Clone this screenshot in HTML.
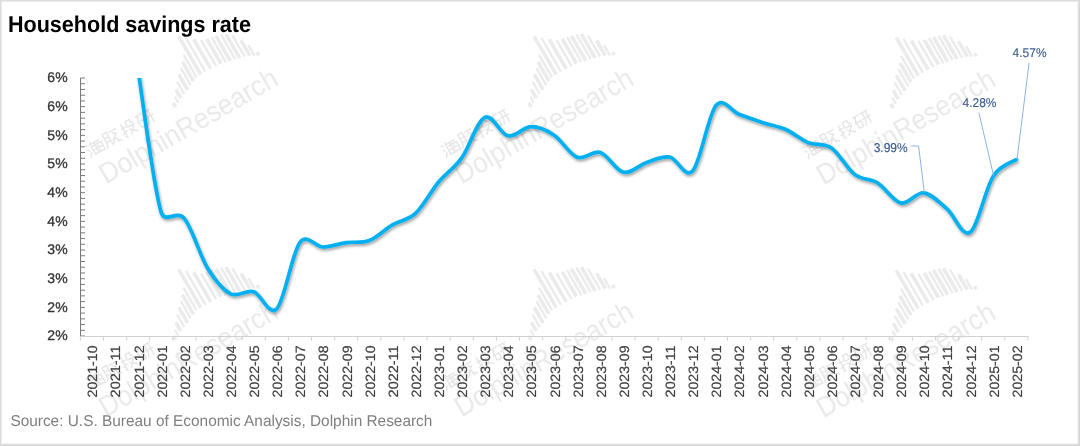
<!DOCTYPE html>
<html><head><meta charset="utf-8"><style>
html,body{margin:0;padding:0;}
body{width:1080px;height:446px;overflow:hidden;background:#fff;position:relative;}
.frame{position:absolute;left:0;top:0;width:1080px;height:446px;box-shadow:inset 1px 1px 0 #dcdcdc, inset -1px -1px 0 #d6d6d6, inset 2px 2px 0 #eaeaea, inset -2px -2px 0 #e0e0e0, inset -3px -3px 0 #f5f5f5;}
svg{position:absolute;left:0;top:0;will-change:transform;}
text{font-family:"Liberation Sans",sans-serif;text-rendering:geometricPrecision;}
.yl{font-size:14px;fill:#333;stroke:#333;stroke-width:0.3px;text-anchor:end;}
.xl{font-size:13.5px;fill:#404040;stroke:#404040;stroke-width:0.2px;text-anchor:end;}
.title{font-size:22.9px;font-weight:bold;fill:#000;}
.src{font-size:15.7px;fill:#7f7f7f;}
.ann{font-size:12.8px;fill:#3b5b8c;stroke:#3b5b8c;stroke-width:0.15px;}
.wm{font-size:28.5px;fill:#eaeaea;}
</style></head><body>
<div class="frame"></div>
<svg width="1080" height="446" viewBox="0 0 1080 446">
<defs>
<clipPath id="plot"><rect x="81" y="78.0" width="960" height="260"/></clipPath>
<filter id="sh" x="-5%" y="-5%" width="110%" height="120%">
<feGaussianBlur in="SourceAlpha" stdDeviation="1.7"/>
<feOffset dx="0.8" dy="2.4" result="b"/>
<feComponentTransfer><feFuncA type="linear" slope="0.38"/></feComponentTransfer>
<feMerge><feMergeNode/><feMergeNode in="SourceGraphic"/></feMerge>
</filter>
</defs>
<g transform="translate(104.0,181.0)"><g transform="rotate(-30)"><g stroke="#ebebeb"><line x1="99.0" y1="-33.0" x2="99.0" y2="-28.2" stroke-width="3.6"/><line x1="103.5" y1="-37.5" x2="103.5" y2="-30.8" stroke-width="2.4"/><line x1="108.0" y1="-43.6" x2="108.0" y2="-33.4" stroke-width="3.6"/><line x1="113.0" y1="-49.5" x2="113.0" y2="-35.2" stroke-width="2.4"/><line x1="118.0" y1="-54.9" x2="118.0" y2="-37.0" stroke-width="3.6"/><line x1="123.0" y1="-59.3" x2="123.0" y2="-39.5" stroke-width="2.4"/><line x1="127.5" y1="-63.9" x2="127.5" y2="-41.8" stroke-width="3.6"/><line x1="132.0" y1="-69.7" x2="132.0" y2="-43.5" stroke-width="2.4"/><line x1="137.0" y1="-88.0" x2="137.0" y2="-43.7" stroke-width="3.6"/><line x1="142.5" y1="-83.0" x2="142.5" y2="-43.9" stroke-width="2.4"/><line x1="148.5" y1="-77.7" x2="148.5" y2="-43.7" stroke-width="3.6"/><line x1="154.5" y1="-73.5" x2="154.5" y2="-43.4" stroke-width="2.4"/><line x1="160.0" y1="-71.7" x2="160.0" y2="-43.1" stroke-width="3.6"/><line x1="165.0" y1="-70.8" x2="165.0" y2="-42.1" stroke-width="2.4"/><line x1="169.5" y1="-69.7" x2="169.5" y2="-41.0" stroke-width="3.6"/><line x1="174.5" y1="-68.2" x2="174.5" y2="-39.9" stroke-width="2.4"/><line x1="179.0" y1="-66.2" x2="179.0" y2="-38.7" stroke-width="3.6"/><line x1="184.0" y1="-61.8" x2="184.0" y2="-37.4" stroke-width="2.4"/><line x1="189.0" y1="-53.3" x2="189.0" y2="-35.7" stroke-width="3.6"/><line x1="193.0" y1="-45.4" x2="193.0" y2="-33.4" stroke-width="2.4"/><line x1="197.0" y1="-35.0" x2="197.0" y2="-31.6" stroke-width="3.6"/></g><text x="0" y="4" class="wm" textLength="201" lengthAdjust="spacingAndGlyphs">DolphinResearch</text>
<g transform="translate(0,-25) scale(1.22)" stroke="#e6e6e6" stroke-width="1.2" fill="none">
<path d="M1,-12 l2,1.5 M0.5,-8 l2,1.5 M0,-1 l3,-4 M6,-13 l-1.5,3 M5.5,-11 h8 M5,-9 v7 h9 M5,-9 h9 v8 M5,-5.5 h9 M8.5,-11 v9 M10,-8 l1,1.5 M9.5,-4 l1,1.5"/>
<path d="M16,-1 l1.5,-3 v-9 h4 v12 M17.5,-9 h4 M17.5,-5.5 h4 M23,-12 h7 M25,-10.5 l3,2 l-5,4 M26,-7 l1,6 M26,-4 l4,3 M25.5,-6 l-3,4"/>
<path d="M33,-9 h4 M35,-13 v12 l-1.5,-1 M32.5,-4 l5,-2 M39,-13 v3 l-1.5,1.5 M39,-13 h4 v3 h2 M38.5,-8 h6 l-6,7 M39,-6 l6,5"/>
<path d="M48,-12 h6 M50.5,-12 l-2.5,6 M49,-7 h4 v5 h-4 z M55,-12 h7 M54.5,-7 h8 M57,-12 v6 l-2,5 M60,-12 v11"/>
</g></g>
</g><g transform="translate(459.5,181.0)"><g transform="rotate(-30)"><g stroke="#ebebeb"><line x1="99.0" y1="-33.0" x2="99.0" y2="-28.2" stroke-width="3.6"/><line x1="103.5" y1="-37.5" x2="103.5" y2="-30.8" stroke-width="2.4"/><line x1="108.0" y1="-43.6" x2="108.0" y2="-33.4" stroke-width="3.6"/><line x1="113.0" y1="-49.5" x2="113.0" y2="-35.2" stroke-width="2.4"/><line x1="118.0" y1="-54.9" x2="118.0" y2="-37.0" stroke-width="3.6"/><line x1="123.0" y1="-59.3" x2="123.0" y2="-39.5" stroke-width="2.4"/><line x1="127.5" y1="-63.9" x2="127.5" y2="-41.8" stroke-width="3.6"/><line x1="132.0" y1="-69.7" x2="132.0" y2="-43.5" stroke-width="2.4"/><line x1="137.0" y1="-88.0" x2="137.0" y2="-43.7" stroke-width="3.6"/><line x1="142.5" y1="-83.0" x2="142.5" y2="-43.9" stroke-width="2.4"/><line x1="148.5" y1="-77.7" x2="148.5" y2="-43.7" stroke-width="3.6"/><line x1="154.5" y1="-73.5" x2="154.5" y2="-43.4" stroke-width="2.4"/><line x1="160.0" y1="-71.7" x2="160.0" y2="-43.1" stroke-width="3.6"/><line x1="165.0" y1="-70.8" x2="165.0" y2="-42.1" stroke-width="2.4"/><line x1="169.5" y1="-69.7" x2="169.5" y2="-41.0" stroke-width="3.6"/><line x1="174.5" y1="-68.2" x2="174.5" y2="-39.9" stroke-width="2.4"/><line x1="179.0" y1="-66.2" x2="179.0" y2="-38.7" stroke-width="3.6"/><line x1="184.0" y1="-61.8" x2="184.0" y2="-37.4" stroke-width="2.4"/><line x1="189.0" y1="-53.3" x2="189.0" y2="-35.7" stroke-width="3.6"/><line x1="193.0" y1="-45.4" x2="193.0" y2="-33.4" stroke-width="2.4"/><line x1="197.0" y1="-35.0" x2="197.0" y2="-31.6" stroke-width="3.6"/></g><text x="0" y="4" class="wm" textLength="201" lengthAdjust="spacingAndGlyphs">DolphinResearch</text>
<g transform="translate(0,-25) scale(1.22)" stroke="#e6e6e6" stroke-width="1.2" fill="none">
<path d="M1,-12 l2,1.5 M0.5,-8 l2,1.5 M0,-1 l3,-4 M6,-13 l-1.5,3 M5.5,-11 h8 M5,-9 v7 h9 M5,-9 h9 v8 M5,-5.5 h9 M8.5,-11 v9 M10,-8 l1,1.5 M9.5,-4 l1,1.5"/>
<path d="M16,-1 l1.5,-3 v-9 h4 v12 M17.5,-9 h4 M17.5,-5.5 h4 M23,-12 h7 M25,-10.5 l3,2 l-5,4 M26,-7 l1,6 M26,-4 l4,3 M25.5,-6 l-3,4"/>
<path d="M33,-9 h4 M35,-13 v12 l-1.5,-1 M32.5,-4 l5,-2 M39,-13 v3 l-1.5,1.5 M39,-13 h4 v3 h2 M38.5,-8 h6 l-6,7 M39,-6 l6,5"/>
<path d="M48,-12 h6 M50.5,-12 l-2.5,6 M49,-7 h4 v5 h-4 z M55,-12 h7 M54.5,-7 h8 M57,-12 v6 l-2,5 M60,-12 v11"/>
</g></g>
</g><g transform="translate(821.5,182.0)"><g transform="rotate(-30)"><g stroke="#ebebeb"><line x1="99.0" y1="-33.0" x2="99.0" y2="-28.2" stroke-width="3.6"/><line x1="103.5" y1="-37.5" x2="103.5" y2="-30.8" stroke-width="2.4"/><line x1="108.0" y1="-43.6" x2="108.0" y2="-33.4" stroke-width="3.6"/><line x1="113.0" y1="-49.5" x2="113.0" y2="-35.2" stroke-width="2.4"/><line x1="118.0" y1="-54.9" x2="118.0" y2="-37.0" stroke-width="3.6"/><line x1="123.0" y1="-59.3" x2="123.0" y2="-39.5" stroke-width="2.4"/><line x1="127.5" y1="-63.9" x2="127.5" y2="-41.8" stroke-width="3.6"/><line x1="132.0" y1="-69.7" x2="132.0" y2="-43.5" stroke-width="2.4"/><line x1="137.0" y1="-88.0" x2="137.0" y2="-43.7" stroke-width="3.6"/><line x1="142.5" y1="-83.0" x2="142.5" y2="-43.9" stroke-width="2.4"/><line x1="148.5" y1="-77.7" x2="148.5" y2="-43.7" stroke-width="3.6"/><line x1="154.5" y1="-73.5" x2="154.5" y2="-43.4" stroke-width="2.4"/><line x1="160.0" y1="-71.7" x2="160.0" y2="-43.1" stroke-width="3.6"/><line x1="165.0" y1="-70.8" x2="165.0" y2="-42.1" stroke-width="2.4"/><line x1="169.5" y1="-69.7" x2="169.5" y2="-41.0" stroke-width="3.6"/><line x1="174.5" y1="-68.2" x2="174.5" y2="-39.9" stroke-width="2.4"/><line x1="179.0" y1="-66.2" x2="179.0" y2="-38.7" stroke-width="3.6"/><line x1="184.0" y1="-61.8" x2="184.0" y2="-37.4" stroke-width="2.4"/><line x1="189.0" y1="-53.3" x2="189.0" y2="-35.7" stroke-width="3.6"/><line x1="193.0" y1="-45.4" x2="193.0" y2="-33.4" stroke-width="2.4"/><line x1="197.0" y1="-35.0" x2="197.0" y2="-31.6" stroke-width="3.6"/></g><text x="0" y="4" class="wm" textLength="201" lengthAdjust="spacingAndGlyphs">DolphinResearch</text>
<g transform="translate(0,-25) scale(1.22)" stroke="#e6e6e6" stroke-width="1.2" fill="none">
<path d="M1,-12 l2,1.5 M0.5,-8 l2,1.5 M0,-1 l3,-4 M6,-13 l-1.5,3 M5.5,-11 h8 M5,-9 v7 h9 M5,-9 h9 v8 M5,-5.5 h9 M8.5,-11 v9 M10,-8 l1,1.5 M9.5,-4 l1,1.5"/>
<path d="M16,-1 l1.5,-3 v-9 h4 v12 M17.5,-9 h4 M17.5,-5.5 h4 M23,-12 h7 M25,-10.5 l3,2 l-5,4 M26,-7 l1,6 M26,-4 l4,3 M25.5,-6 l-3,4"/>
<path d="M33,-9 h4 M35,-13 v12 l-1.5,-1 M32.5,-4 l5,-2 M39,-13 v3 l-1.5,1.5 M39,-13 h4 v3 h2 M38.5,-8 h6 l-6,7 M39,-6 l6,5"/>
<path d="M48,-12 h6 M50.5,-12 l-2.5,6 M49,-7 h4 v5 h-4 z M55,-12 h7 M54.5,-7 h8 M57,-12 v6 l-2,5 M60,-12 v11"/>
</g></g>
</g><g transform="translate(104.0,414.0)"><g transform="rotate(-30)"><g stroke="#ebebeb"><line x1="99.0" y1="-33.0" x2="99.0" y2="-28.2" stroke-width="3.6"/><line x1="103.5" y1="-37.5" x2="103.5" y2="-30.8" stroke-width="2.4"/><line x1="108.0" y1="-43.6" x2="108.0" y2="-33.4" stroke-width="3.6"/><line x1="113.0" y1="-49.5" x2="113.0" y2="-35.2" stroke-width="2.4"/><line x1="118.0" y1="-54.9" x2="118.0" y2="-37.0" stroke-width="3.6"/><line x1="123.0" y1="-59.3" x2="123.0" y2="-39.5" stroke-width="2.4"/><line x1="127.5" y1="-63.9" x2="127.5" y2="-41.8" stroke-width="3.6"/><line x1="132.0" y1="-69.7" x2="132.0" y2="-43.5" stroke-width="2.4"/><line x1="137.0" y1="-88.0" x2="137.0" y2="-43.7" stroke-width="3.6"/><line x1="142.5" y1="-83.0" x2="142.5" y2="-43.9" stroke-width="2.4"/><line x1="148.5" y1="-77.7" x2="148.5" y2="-43.7" stroke-width="3.6"/><line x1="154.5" y1="-73.5" x2="154.5" y2="-43.4" stroke-width="2.4"/><line x1="160.0" y1="-71.7" x2="160.0" y2="-43.1" stroke-width="3.6"/><line x1="165.0" y1="-70.8" x2="165.0" y2="-42.1" stroke-width="2.4"/><line x1="169.5" y1="-69.7" x2="169.5" y2="-41.0" stroke-width="3.6"/><line x1="174.5" y1="-68.2" x2="174.5" y2="-39.9" stroke-width="2.4"/><line x1="179.0" y1="-66.2" x2="179.0" y2="-38.7" stroke-width="3.6"/><line x1="184.0" y1="-61.8" x2="184.0" y2="-37.4" stroke-width="2.4"/><line x1="189.0" y1="-53.3" x2="189.0" y2="-35.7" stroke-width="3.6"/><line x1="193.0" y1="-45.4" x2="193.0" y2="-33.4" stroke-width="2.4"/><line x1="197.0" y1="-35.0" x2="197.0" y2="-31.6" stroke-width="3.6"/></g><text x="0" y="4" class="wm" textLength="201" lengthAdjust="spacingAndGlyphs">DolphinResearch</text>
<g transform="translate(0,-25) scale(1.22)" stroke="#e6e6e6" stroke-width="1.2" fill="none">
<path d="M1,-12 l2,1.5 M0.5,-8 l2,1.5 M0,-1 l3,-4 M6,-13 l-1.5,3 M5.5,-11 h8 M5,-9 v7 h9 M5,-9 h9 v8 M5,-5.5 h9 M8.5,-11 v9 M10,-8 l1,1.5 M9.5,-4 l1,1.5"/>
<path d="M16,-1 l1.5,-3 v-9 h4 v12 M17.5,-9 h4 M17.5,-5.5 h4 M23,-12 h7 M25,-10.5 l3,2 l-5,4 M26,-7 l1,6 M26,-4 l4,3 M25.5,-6 l-3,4"/>
<path d="M33,-9 h4 M35,-13 v12 l-1.5,-1 M32.5,-4 l5,-2 M39,-13 v3 l-1.5,1.5 M39,-13 h4 v3 h2 M38.5,-8 h6 l-6,7 M39,-6 l6,5"/>
<path d="M48,-12 h6 M50.5,-12 l-2.5,6 M49,-7 h4 v5 h-4 z M55,-12 h7 M54.5,-7 h8 M57,-12 v6 l-2,5 M60,-12 v11"/>
</g></g>
</g><g transform="translate(459.5,414.0)"><g transform="rotate(-30)"><g stroke="#ebebeb"><line x1="99.0" y1="-33.0" x2="99.0" y2="-28.2" stroke-width="3.6"/><line x1="103.5" y1="-37.5" x2="103.5" y2="-30.8" stroke-width="2.4"/><line x1="108.0" y1="-43.6" x2="108.0" y2="-33.4" stroke-width="3.6"/><line x1="113.0" y1="-49.5" x2="113.0" y2="-35.2" stroke-width="2.4"/><line x1="118.0" y1="-54.9" x2="118.0" y2="-37.0" stroke-width="3.6"/><line x1="123.0" y1="-59.3" x2="123.0" y2="-39.5" stroke-width="2.4"/><line x1="127.5" y1="-63.9" x2="127.5" y2="-41.8" stroke-width="3.6"/><line x1="132.0" y1="-69.7" x2="132.0" y2="-43.5" stroke-width="2.4"/><line x1="137.0" y1="-88.0" x2="137.0" y2="-43.7" stroke-width="3.6"/><line x1="142.5" y1="-83.0" x2="142.5" y2="-43.9" stroke-width="2.4"/><line x1="148.5" y1="-77.7" x2="148.5" y2="-43.7" stroke-width="3.6"/><line x1="154.5" y1="-73.5" x2="154.5" y2="-43.4" stroke-width="2.4"/><line x1="160.0" y1="-71.7" x2="160.0" y2="-43.1" stroke-width="3.6"/><line x1="165.0" y1="-70.8" x2="165.0" y2="-42.1" stroke-width="2.4"/><line x1="169.5" y1="-69.7" x2="169.5" y2="-41.0" stroke-width="3.6"/><line x1="174.5" y1="-68.2" x2="174.5" y2="-39.9" stroke-width="2.4"/><line x1="179.0" y1="-66.2" x2="179.0" y2="-38.7" stroke-width="3.6"/><line x1="184.0" y1="-61.8" x2="184.0" y2="-37.4" stroke-width="2.4"/><line x1="189.0" y1="-53.3" x2="189.0" y2="-35.7" stroke-width="3.6"/><line x1="193.0" y1="-45.4" x2="193.0" y2="-33.4" stroke-width="2.4"/><line x1="197.0" y1="-35.0" x2="197.0" y2="-31.6" stroke-width="3.6"/></g><text x="0" y="4" class="wm" textLength="201" lengthAdjust="spacingAndGlyphs">DolphinResearch</text>
<g transform="translate(0,-25) scale(1.22)" stroke="#e6e6e6" stroke-width="1.2" fill="none">
<path d="M1,-12 l2,1.5 M0.5,-8 l2,1.5 M0,-1 l3,-4 M6,-13 l-1.5,3 M5.5,-11 h8 M5,-9 v7 h9 M5,-9 h9 v8 M5,-5.5 h9 M8.5,-11 v9 M10,-8 l1,1.5 M9.5,-4 l1,1.5"/>
<path d="M16,-1 l1.5,-3 v-9 h4 v12 M17.5,-9 h4 M17.5,-5.5 h4 M23,-12 h7 M25,-10.5 l3,2 l-5,4 M26,-7 l1,6 M26,-4 l4,3 M25.5,-6 l-3,4"/>
<path d="M33,-9 h4 M35,-13 v12 l-1.5,-1 M32.5,-4 l5,-2 M39,-13 v3 l-1.5,1.5 M39,-13 h4 v3 h2 M38.5,-8 h6 l-6,7 M39,-6 l6,5"/>
<path d="M48,-12 h6 M50.5,-12 l-2.5,6 M49,-7 h4 v5 h-4 z M55,-12 h7 M54.5,-7 h8 M57,-12 v6 l-2,5 M60,-12 v11"/>
</g></g>
</g><g transform="translate(821.5,415.0)"><g transform="rotate(-30)"><g stroke="#ebebeb"><line x1="99.0" y1="-33.0" x2="99.0" y2="-28.2" stroke-width="3.6"/><line x1="103.5" y1="-37.5" x2="103.5" y2="-30.8" stroke-width="2.4"/><line x1="108.0" y1="-43.6" x2="108.0" y2="-33.4" stroke-width="3.6"/><line x1="113.0" y1="-49.5" x2="113.0" y2="-35.2" stroke-width="2.4"/><line x1="118.0" y1="-54.9" x2="118.0" y2="-37.0" stroke-width="3.6"/><line x1="123.0" y1="-59.3" x2="123.0" y2="-39.5" stroke-width="2.4"/><line x1="127.5" y1="-63.9" x2="127.5" y2="-41.8" stroke-width="3.6"/><line x1="132.0" y1="-69.7" x2="132.0" y2="-43.5" stroke-width="2.4"/><line x1="137.0" y1="-88.0" x2="137.0" y2="-43.7" stroke-width="3.6"/><line x1="142.5" y1="-83.0" x2="142.5" y2="-43.9" stroke-width="2.4"/><line x1="148.5" y1="-77.7" x2="148.5" y2="-43.7" stroke-width="3.6"/><line x1="154.5" y1="-73.5" x2="154.5" y2="-43.4" stroke-width="2.4"/><line x1="160.0" y1="-71.7" x2="160.0" y2="-43.1" stroke-width="3.6"/><line x1="165.0" y1="-70.8" x2="165.0" y2="-42.1" stroke-width="2.4"/><line x1="169.5" y1="-69.7" x2="169.5" y2="-41.0" stroke-width="3.6"/><line x1="174.5" y1="-68.2" x2="174.5" y2="-39.9" stroke-width="2.4"/><line x1="179.0" y1="-66.2" x2="179.0" y2="-38.7" stroke-width="3.6"/><line x1="184.0" y1="-61.8" x2="184.0" y2="-37.4" stroke-width="2.4"/><line x1="189.0" y1="-53.3" x2="189.0" y2="-35.7" stroke-width="3.6"/><line x1="193.0" y1="-45.4" x2="193.0" y2="-33.4" stroke-width="2.4"/><line x1="197.0" y1="-35.0" x2="197.0" y2="-31.6" stroke-width="3.6"/></g><text x="0" y="4" class="wm" textLength="201" lengthAdjust="spacingAndGlyphs">DolphinResearch</text>
<g transform="translate(0,-25) scale(1.22)" stroke="#e6e6e6" stroke-width="1.2" fill="none">
<path d="M1,-12 l2,1.5 M0.5,-8 l2,1.5 M0,-1 l3,-4 M6,-13 l-1.5,3 M5.5,-11 h8 M5,-9 v7 h9 M5,-9 h9 v8 M5,-5.5 h9 M8.5,-11 v9 M10,-8 l1,1.5 M9.5,-4 l1,1.5"/>
<path d="M16,-1 l1.5,-3 v-9 h4 v12 M17.5,-9 h4 M17.5,-5.5 h4 M23,-12 h7 M25,-10.5 l3,2 l-5,4 M26,-7 l1,6 M26,-4 l4,3 M25.5,-6 l-3,4"/>
<path d="M33,-9 h4 M35,-13 v12 l-1.5,-1 M32.5,-4 l5,-2 M39,-13 v3 l-1.5,1.5 M39,-13 h4 v3 h2 M38.5,-8 h6 l-6,7 M39,-6 l6,5"/>
<path d="M48,-12 h6 M50.5,-12 l-2.5,6 M49,-7 h4 v5 h-4 z M55,-12 h7 M54.5,-7 h8 M57,-12 v6 l-2,5 M60,-12 v11"/>
</g></g>
</g>
<text x="8" y="31.8" class="title" textLength="243" lengthAdjust="spacingAndGlyphs">Household savings rate</text>
<text x="67.6" y="82.40" class="yl">6%</text><text x="67.6" y="111.07" class="yl">6%</text><text x="67.6" y="139.74" class="yl">5%</text><text x="67.6" y="168.41" class="yl">5%</text><text x="67.6" y="197.08" class="yl">4%</text><text x="67.6" y="225.75" class="yl">4%</text><text x="67.6" y="254.42" class="yl">3%</text><text x="67.6" y="283.09" class="yl">3%</text><text x="67.6" y="311.76" class="yl">2%</text><text x="67.6" y="340.43" class="yl">2%</text>
<g stroke="#7a7a7a" stroke-width="1"><line x1="80.5" y1="78.00" x2="80.5" y2="336" /><line x1="80.5" y1="78.00" x2="85" y2="78.00" /><line x1="80.5" y1="83.73" x2="85" y2="83.73" /><line x1="80.5" y1="89.47" x2="85" y2="89.47" /><line x1="80.5" y1="95.20" x2="85" y2="95.20" /><line x1="80.5" y1="100.94" x2="85" y2="100.94" /><line x1="80.5" y1="106.67" x2="85" y2="106.67" /><line x1="80.5" y1="112.40" x2="85" y2="112.40" /><line x1="80.5" y1="118.14" x2="85" y2="118.14" /><line x1="80.5" y1="123.87" x2="85" y2="123.87" /><line x1="80.5" y1="129.61" x2="85" y2="129.61" /><line x1="80.5" y1="135.34" x2="85" y2="135.34" /><line x1="80.5" y1="141.07" x2="85" y2="141.07" /><line x1="80.5" y1="146.81" x2="85" y2="146.81" /><line x1="80.5" y1="152.54" x2="85" y2="152.54" /><line x1="80.5" y1="158.28" x2="85" y2="158.28" /><line x1="80.5" y1="164.01" x2="85" y2="164.01" /><line x1="80.5" y1="169.74" x2="85" y2="169.74" /><line x1="80.5" y1="175.48" x2="85" y2="175.48" /><line x1="80.5" y1="181.21" x2="85" y2="181.21" /><line x1="80.5" y1="186.95" x2="85" y2="186.95" /><line x1="80.5" y1="192.68" x2="85" y2="192.68" /><line x1="80.5" y1="198.41" x2="85" y2="198.41" /><line x1="80.5" y1="204.15" x2="85" y2="204.15" /><line x1="80.5" y1="209.88" x2="85" y2="209.88" /><line x1="80.5" y1="215.62" x2="85" y2="215.62" /><line x1="80.5" y1="221.35" x2="85" y2="221.35" /><line x1="80.5" y1="227.08" x2="85" y2="227.08" /><line x1="80.5" y1="232.82" x2="85" y2="232.82" /><line x1="80.5" y1="238.55" x2="85" y2="238.55" /><line x1="80.5" y1="244.29" x2="85" y2="244.29" /><line x1="80.5" y1="250.02" x2="85" y2="250.02" /><line x1="80.5" y1="255.75" x2="85" y2="255.75" /><line x1="80.5" y1="261.49" x2="85" y2="261.49" /><line x1="80.5" y1="267.22" x2="85" y2="267.22" /><line x1="80.5" y1="272.96" x2="85" y2="272.96" /><line x1="80.5" y1="278.69" x2="85" y2="278.69" /><line x1="80.5" y1="284.42" x2="85" y2="284.42" /><line x1="80.5" y1="290.16" x2="85" y2="290.16" /><line x1="80.5" y1="295.89" x2="85" y2="295.89" /><line x1="80.5" y1="301.63" x2="85" y2="301.63" /><line x1="80.5" y1="307.36" x2="85" y2="307.36" /><line x1="80.5" y1="313.09" x2="85" y2="313.09" /><line x1="80.5" y1="318.83" x2="85" y2="318.83" /><line x1="80.5" y1="324.56" x2="85" y2="324.56" /><line x1="80.5" y1="330.30" x2="85" y2="330.30" /><line x1="80.5" y1="336.03" x2="85" y2="336.03" /></g>
<g stroke="#d0d0d0" stroke-width="1"><line x1="80.4" y1="336.5" x2="1028" y2="336.5" /><line x1="80.40" y1="336" x2="80.40" y2="340.5" /><line x1="103.51" y1="336" x2="103.51" y2="340.5" /><line x1="126.62" y1="336" x2="126.62" y2="340.5" /><line x1="149.73" y1="336" x2="149.73" y2="340.5" /><line x1="172.84" y1="336" x2="172.84" y2="340.5" /><line x1="195.95" y1="336" x2="195.95" y2="340.5" /><line x1="219.06" y1="336" x2="219.06" y2="340.5" /><line x1="242.17" y1="336" x2="242.17" y2="340.5" /><line x1="265.28" y1="336" x2="265.28" y2="340.5" /><line x1="288.39" y1="336" x2="288.39" y2="340.5" /><line x1="311.50" y1="336" x2="311.50" y2="340.5" /><line x1="334.61" y1="336" x2="334.61" y2="340.5" /><line x1="357.72" y1="336" x2="357.72" y2="340.5" /><line x1="380.83" y1="336" x2="380.83" y2="340.5" /><line x1="403.94" y1="336" x2="403.94" y2="340.5" /><line x1="427.05" y1="336" x2="427.05" y2="340.5" /><line x1="450.16" y1="336" x2="450.16" y2="340.5" /><line x1="473.27" y1="336" x2="473.27" y2="340.5" /><line x1="496.38" y1="336" x2="496.38" y2="340.5" /><line x1="519.49" y1="336" x2="519.49" y2="340.5" /><line x1="542.60" y1="336" x2="542.60" y2="340.5" /><line x1="565.71" y1="336" x2="565.71" y2="340.5" /><line x1="588.82" y1="336" x2="588.82" y2="340.5" /><line x1="611.93" y1="336" x2="611.93" y2="340.5" /><line x1="635.04" y1="336" x2="635.04" y2="340.5" /><line x1="658.15" y1="336" x2="658.15" y2="340.5" /><line x1="681.26" y1="336" x2="681.26" y2="340.5" /><line x1="704.37" y1="336" x2="704.37" y2="340.5" /><line x1="727.48" y1="336" x2="727.48" y2="340.5" /><line x1="750.59" y1="336" x2="750.59" y2="340.5" /><line x1="773.70" y1="336" x2="773.70" y2="340.5" /><line x1="796.81" y1="336" x2="796.81" y2="340.5" /><line x1="819.92" y1="336" x2="819.92" y2="340.5" /><line x1="843.03" y1="336" x2="843.03" y2="340.5" /><line x1="866.14" y1="336" x2="866.14" y2="340.5" /><line x1="889.25" y1="336" x2="889.25" y2="340.5" /><line x1="912.36" y1="336" x2="912.36" y2="340.5" /><line x1="935.47" y1="336" x2="935.47" y2="340.5" /><line x1="958.58" y1="336" x2="958.58" y2="340.5" /><line x1="981.69" y1="336" x2="981.69" y2="340.5" /><line x1="1004.80" y1="336" x2="1004.80" y2="340.5" /><line x1="1027.91" y1="336" x2="1027.91" y2="340.5" /></g>
<text transform="translate(97.36,345.4) rotate(-90)" class="xl" textLength="52" lengthAdjust="spacingAndGlyphs">2021-10</text><text transform="translate(120.47,345.4) rotate(-90)" class="xl" textLength="52" lengthAdjust="spacingAndGlyphs">2021-11</text><text transform="translate(143.58,345.4) rotate(-90)" class="xl" textLength="52" lengthAdjust="spacingAndGlyphs">2021-12</text><text transform="translate(166.69,345.4) rotate(-90)" class="xl" textLength="52" lengthAdjust="spacingAndGlyphs">2022-01</text><text transform="translate(189.80,345.4) rotate(-90)" class="xl" textLength="52" lengthAdjust="spacingAndGlyphs">2022-02</text><text transform="translate(212.91,345.4) rotate(-90)" class="xl" textLength="52" lengthAdjust="spacingAndGlyphs">2022-03</text><text transform="translate(236.02,345.4) rotate(-90)" class="xl" textLength="52" lengthAdjust="spacingAndGlyphs">2022-04</text><text transform="translate(259.12,345.4) rotate(-90)" class="xl" textLength="52" lengthAdjust="spacingAndGlyphs">2022-05</text><text transform="translate(282.24,345.4) rotate(-90)" class="xl" textLength="52" lengthAdjust="spacingAndGlyphs">2022-06</text><text transform="translate(305.34,345.4) rotate(-90)" class="xl" textLength="52" lengthAdjust="spacingAndGlyphs">2022-07</text><text transform="translate(328.45,345.4) rotate(-90)" class="xl" textLength="52" lengthAdjust="spacingAndGlyphs">2022-08</text><text transform="translate(351.56,345.4) rotate(-90)" class="xl" textLength="52" lengthAdjust="spacingAndGlyphs">2022-09</text><text transform="translate(374.67,345.4) rotate(-90)" class="xl" textLength="52" lengthAdjust="spacingAndGlyphs">2022-10</text><text transform="translate(397.78,345.4) rotate(-90)" class="xl" textLength="52" lengthAdjust="spacingAndGlyphs">2022-11</text><text transform="translate(420.89,345.4) rotate(-90)" class="xl" textLength="52" lengthAdjust="spacingAndGlyphs">2022-12</text><text transform="translate(444.00,345.4) rotate(-90)" class="xl" textLength="52" lengthAdjust="spacingAndGlyphs">2023-01</text><text transform="translate(467.12,345.4) rotate(-90)" class="xl" textLength="52" lengthAdjust="spacingAndGlyphs">2023-02</text><text transform="translate(490.23,345.4) rotate(-90)" class="xl" textLength="52" lengthAdjust="spacingAndGlyphs">2023-03</text><text transform="translate(513.33,345.4) rotate(-90)" class="xl" textLength="52" lengthAdjust="spacingAndGlyphs">2023-04</text><text transform="translate(536.44,345.4) rotate(-90)" class="xl" textLength="52" lengthAdjust="spacingAndGlyphs">2023-05</text><text transform="translate(559.55,345.4) rotate(-90)" class="xl" textLength="52" lengthAdjust="spacingAndGlyphs">2023-06</text><text transform="translate(582.66,345.4) rotate(-90)" class="xl" textLength="52" lengthAdjust="spacingAndGlyphs">2023-07</text><text transform="translate(605.77,345.4) rotate(-90)" class="xl" textLength="52" lengthAdjust="spacingAndGlyphs">2023-08</text><text transform="translate(628.88,345.4) rotate(-90)" class="xl" textLength="52" lengthAdjust="spacingAndGlyphs">2023-09</text><text transform="translate(651.99,345.4) rotate(-90)" class="xl" textLength="52" lengthAdjust="spacingAndGlyphs">2023-10</text><text transform="translate(675.10,345.4) rotate(-90)" class="xl" textLength="52" lengthAdjust="spacingAndGlyphs">2023-11</text><text transform="translate(698.21,345.4) rotate(-90)" class="xl" textLength="52" lengthAdjust="spacingAndGlyphs">2023-12</text><text transform="translate(721.32,345.4) rotate(-90)" class="xl" textLength="52" lengthAdjust="spacingAndGlyphs">2024-01</text><text transform="translate(744.43,345.4) rotate(-90)" class="xl" textLength="52" lengthAdjust="spacingAndGlyphs">2024-02</text><text transform="translate(767.54,345.4) rotate(-90)" class="xl" textLength="52" lengthAdjust="spacingAndGlyphs">2024-03</text><text transform="translate(790.65,345.4) rotate(-90)" class="xl" textLength="52" lengthAdjust="spacingAndGlyphs">2024-04</text><text transform="translate(813.76,345.4) rotate(-90)" class="xl" textLength="52" lengthAdjust="spacingAndGlyphs">2024-05</text><text transform="translate(836.87,345.4) rotate(-90)" class="xl" textLength="52" lengthAdjust="spacingAndGlyphs">2024-06</text><text transform="translate(859.98,345.4) rotate(-90)" class="xl" textLength="52" lengthAdjust="spacingAndGlyphs">2024-07</text><text transform="translate(883.09,345.4) rotate(-90)" class="xl" textLength="52" lengthAdjust="spacingAndGlyphs">2024-08</text><text transform="translate(906.20,345.4) rotate(-90)" class="xl" textLength="52" lengthAdjust="spacingAndGlyphs">2024-09</text><text transform="translate(929.31,345.4) rotate(-90)" class="xl" textLength="52" lengthAdjust="spacingAndGlyphs">2024-10</text><text transform="translate(952.42,345.4) rotate(-90)" class="xl" textLength="52" lengthAdjust="spacingAndGlyphs">2024-11</text><text transform="translate(975.53,345.4) rotate(-90)" class="xl" textLength="52" lengthAdjust="spacingAndGlyphs">2024-12</text><text transform="translate(998.64,345.4) rotate(-90)" class="xl" textLength="52" lengthAdjust="spacingAndGlyphs">2025-01</text><text transform="translate(1021.75,345.4) rotate(-90)" class="xl" textLength="52" lengthAdjust="spacingAndGlyphs">2025-02</text>
<g clip-path="url(#plot)"><path d="M138.18,71.00 C142.03,94.60 153.58,188.00 161.28,212.60 C164.85,223.99 176.75,209.43 184.40,218.60 C192.10,227.83 199.80,255.47 207.50,268.00 C215.21,280.53 222.91,289.85 230.62,293.80 C238.32,297.75 246.02,289.22 253.72,291.70 C261.43,294.18 269.13,316.93 276.84,308.70 C284.54,300.47 292.24,252.58 299.94,242.30 C307.01,232.86 315.35,246.95 323.06,247.00 C330.76,247.05 338.46,243.68 346.16,242.60 C353.87,241.52 361.57,243.45 369.27,240.50 C376.98,237.55 384.68,229.42 392.38,224.90 C400.09,220.38 407.79,220.55 415.50,213.40 C423.20,206.25 430.90,191.27 438.61,182.00 C446.31,172.73 454.01,168.58 461.72,157.80 C469.42,147.02 477.12,120.97 484.83,117.30 C492.53,113.63 500.23,134.23 507.93,135.80 C515.64,137.37 523.34,126.78 531.04,126.70 C538.75,126.62 546.45,130.20 554.15,135.30 C561.86,140.40 569.56,154.43 577.26,157.30 C584.97,160.17 592.67,150.00 600.38,152.50 C608.08,155.00 615.78,170.65 623.49,172.30 C631.19,173.95 638.89,164.95 646.59,162.40 C654.30,159.85 662.00,155.60 669.70,157.00 C677.41,158.40 685.11,179.35 692.81,170.80 C700.52,162.25 708.22,115.12 715.92,105.70 C723.63,96.28 731.33,111.50 739.03,114.30 C746.74,117.10 754.44,120.00 762.14,122.50 C769.85,125.00 777.55,125.95 785.25,129.30 C792.96,132.65 800.66,139.48 808.37,142.60 C816.07,145.72 823.77,142.70 831.47,148.00 C839.18,153.30 846.88,168.57 854.58,174.40 C862.29,180.23 869.99,178.23 877.69,183.00 C885.40,187.77 893.10,201.37 900.80,203.00 C908.51,204.63 916.21,191.82 923.91,192.80 C931.62,193.78 939.32,202.32 947.02,208.90 C954.73,215.48 962.43,237.75 970.13,232.30 C977.84,226.85 985.54,188.32 993.25,176.20 C1000.88,164.19 1012.50,162.37 1016.35,159.60" fill="none" stroke="#00b0f0" stroke-width="3.7" stroke-linejoin="round" stroke-linecap="round" filter="url(#sh)"/></g>
<g stroke="#8db4e2" stroke-width="1" fill="none">
<polyline points="911.2,146 918.6,146 924.3,192.5"/>
<line x1="978.9" y1="112.7" x2="993.6" y2="175.8"/>
<line x1="1029.1" y1="62.8" x2="1017" y2="159.3"/>
</g>
<text x="873.7" y="151.7" class="ann" textLength="34" lengthAdjust="spacingAndGlyphs">3.99%</text>
<text x="962.5" y="107" class="ann" textLength="34" lengthAdjust="spacingAndGlyphs">4.28%</text>
<text x="1012.6" y="57.2" class="ann" textLength="34" lengthAdjust="spacingAndGlyphs">4.57%</text>
<text x="10.4" y="425.8" class="src" textLength="422" lengthAdjust="spacingAndGlyphs">Source: U.S. Bureau of Economic Analysis, Dolphin Research</text>
</svg>
</body></html>
